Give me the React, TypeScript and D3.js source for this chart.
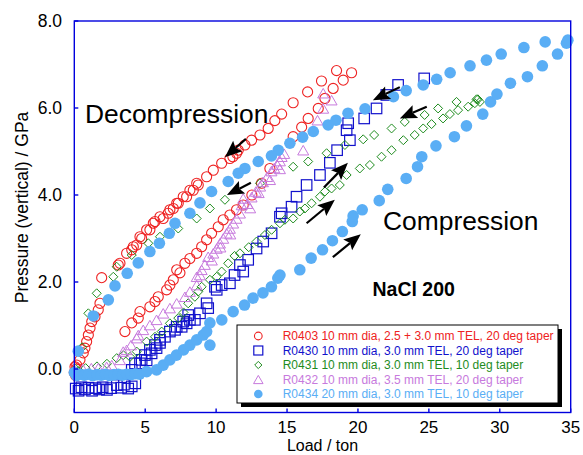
import React from "react";
import * as d3 from "d3";

// ---------- data (Load / ton, Pressure / GPa) ----------
const xTicks = [0, 5, 10, 15, 20, 25, 30, 35];
const yTicks = [0, 2, 4, 6, 8];

const R0403: [number, number][] = [
  [0.0, -0.08], [0.1, -0.15], [0.15, 0.0], [0.05, 0.05],
  [0.17, 0.09], [0.4, 0.21], [0.63, 0.37], [0.75, 0.48], [0.87, 0.63], [0.99, 0.78],
  [1.11, 0.94], [1.23, 1.09], [1.46, 1.2], [1.69, 1.36], [1.81, 1.51], [1.93, 2.1],
  [3.1, 2.39], [3.22, 2.43], [3.69, 2.66], [4.05, 2.74], [4.16, 2.81], [4.4, 2.85],
  [4.63, 3.04], [4.75, 3.0], [5.1, 3.2], [5.33, 3.2], [5.57, 3.35], [5.69, 3.39],
  [6.04, 3.5], [6.27, 3.46], [6.62, 3.58], [6.74, 3.66], [6.98, 3.69], [7.22, 3.81],
  [7.33, 3.81], [7.68, 3.96], [7.92, 3.96], [8.15, 4.11], [8.39, 4.11], [8.63, 4.27],
  [8.74, 4.23], [9.33, 4.42], [9.8, 4.57], [10.39, 4.73], [10.97, 4.84], [11.18, 4.88],
  [11.44, 4.96], [11.56, 5.03], [12.03, 5.15], [12.5, 5.26], [13.09, 5.38], [13.67, 5.53],
  [14.14, 5.71], [14.62, 5.86], [15.43, 6.12], [16.45, 6.37], [17.43, 6.62], [18.49, 6.86],
  [19.55, 6.81],
  [3.57, 0.86], [4.05, 1.06], [4.51, 1.17], [4.63, 1.32], [5.33, 1.43], [5.69, 1.55],
  [5.92, 1.66], [6.51, 1.82], [6.74, 1.93], [6.98, 2.05], [7.22, 2.28], [7.45, 2.21],
  [7.8, 2.43], [8.15, 2.54], [8.63, 2.66], [8.98, 2.81], [9.33, 2.97], [9.68, 3.12],
  [10.15, 3.27], [10.5, 3.43], [10.97, 3.54], [11.44, 3.66], [11.91, 3.77], [12.52, 4.0],
  [13.2, 4.27], [13.79, 4.61], [15.43, 5.34], [16.03, 5.56], [16.49, 5.76], [17.2, 5.99],
  [17.67, 6.22], [18.25, 6.45], [18.96, 6.64],
];

const R0430: [number, number][] = [
  [0.1, -0.45], [0.3, -0.5], [0.5, -0.42], [0.75, -0.47], [1.0, -0.43], [1.25, -0.5],
  [1.5, -0.44], [1.75, -0.47], [2.0, -0.42], [2.3, -0.48], [2.6, -0.44], [3.0, -0.37],
  [3.3, -0.43], [3.5, -0.36], [3.8, -0.45], [4.05, -0.4], [4.3, -0.33],
  [4.05, -0.02], [4.28, 0.13], [4.63, 0.13], [4.75, 0.21], [4.98, 0.32], [5.1, 0.2],
  [5.33, 0.44], [5.45, 0.36], [5.69, 0.55], [5.8, 0.48], [6.04, 0.67], [6.04, 0.6],
  [6.39, 0.74], [6.74, 0.86], [7.1, 0.9], [7.22, 0.97], [7.57, 0.97], [7.68, 1.09],
  [7.92, 1.05], [8.03, 1.24], [8.15, 1.13], [8.5, 1.13], [8.86, 1.28], [9.33, 1.51],
  [9.44, 1.4], [9.92, 1.89], [10.04, 1.82], [10.39, 1.93], [10.97, 1.97], [11.3, 2.16],
  [11.68, 2.39], [11.91, 2.24], [12.26, 2.51], [12.85, 2.77], [13.32, 2.93], [13.91, 3.12],
  [14.5, 3.5], [14.62, 3.58], [15.32, 3.73], [15.67, 3.96], [16.38, 4.23], [17.32, 4.46],
  [18.02, 4.74], [18.53, 5.03], [19.43, 5.26], [19.2, 5.49], [19.31, 5.65], [20.44, 5.76],
  [21.31, 5.99], [22.0, 6.3], [22.83, 6.53], [24.67, 6.68],
];

const R0431: [number, number][] = [
  [0.1, 0.0], [0.3, -0.05], [0.55, 0.5], [0.99, 1.28], [1.58, 1.74], [2.75, 2.12],
  [2.99, 2.35], [4.05, 2.62], [5.22, 2.89], [6.04, 3.04], [7.33, 3.23], [8.63, 3.46],
  [9.56, 3.69], [10.62, 3.89], [13.09, 4.27], [15.43, 4.65], [16.49, 4.77], [17.79, 4.96],
  [19.08, 5.15], [20.37, 5.28], [21.14, 5.38], [22.37, 5.53], [23.3, 5.68], [24.7, 5.84],
  [25.65, 5.99], [26.95, 6.14], [28.36, 6.2],
  [0.8, 0.02], [1.6, 0.06], [2.3, 0.12], [2.99, 0.25], [3.45, 0.32], [3.93, 0.28],
  [4.4, 0.4], [5.1, 0.63], [5.69, 0.74], [6.16, 0.86], [6.74, 1.05], [7.33, 1.17],
  [7.7, 1.3], [8.03, 1.51], [8.5, 1.66], [8.74, 1.78], [8.98, 1.89], [9.56, 2.05],
  [10.04, 2.12], [10.39, 2.24], [10.85, 2.43], [11.3, 2.6], [11.68, 2.66], [12.3, 2.8],
  [12.85, 2.93], [13.44, 3.08], [13.91, 3.2], [14.5, 3.35], [14.85, 3.43], [15.43, 3.46],
  [15.9, 3.62], [16.26, 3.69], [16.73, 3.81], [17.32, 3.96], [17.67, 4.08], [18.14, 4.15],
  [18.72, 4.23], [19.2, 4.46], [20.13, 4.61], [20.84, 4.69], [21.66, 4.88], [22.37, 5.03],
  [23.2, 5.26], [24.0, 5.38], [24.6, 5.53], [25.19, 5.63], [26.0, 5.76], [26.48, 5.86],
  [27.06, 5.95], [27.77, 6.03], [28.24, 6.11], [28.6, 6.14], [28.45, 6.2],
];

const R0432: [number, number][] = [
  [0.1, -0.05], [0.6, 0.0], [1.2, 0.02], [1.69, 0.02], [2.28, 0.05], [2.64, 0.09],
  [3.22, 0.21], [3.45, 0.4], [3.69, 0.44], [4.0, 0.55], [4.4, 0.71], [4.51, 0.78],
  [4.86, 0.9], [5.33, 1.01], [5.8, 1.13], [6.27, 1.28], [6.74, 1.4], [7.22, 1.51],
  [7.8, 1.66], [8.15, 1.78], [8.63, 1.93], [8.86, 2.16], [8.63, 2.12], [8.98, 2.28],
  [9.2, 2.4], [9.44, 2.58], [9.7, 2.5], [9.8, 2.66], [10.04, 2.77], [10.27, 2.89],
  [10.3, 2.8], [10.5, 3.0], [10.74, 3.12], [10.97, 3.23], [11.0, 3.1], [11.2, 3.35],
  [11.44, 3.46], [11.68, 3.58], [11.8, 3.77], [11.91, 3.92], [12.2, 3.8], [12.4, 3.7],
  [12.5, 3.95], [12.8, 4.08], [13.0, 4.05], [13.1, 4.2], [13.3, 4.3], [13.6, 4.42],
  [13.8, 4.35], [13.9, 4.55], [14.1, 4.62], [14.3, 4.7], [14.5, 4.6], [14.5, 4.78],
  [14.62, 4.88], [14.8, 4.95], [16.14, 5.03], [17.15, 5.72], [17.55, 5.99],
  [17.55, 6.34], [18.14, 6.18],
];

const R0434: [number, number][] = [
  [0.0, -0.08], [0.15, -0.15], [0.4, -0.12], [0.7, -0.14], [1.0, -0.12], [1.3, -0.15],
  [1.6, -0.13], [1.9, -0.14], [2.2, -0.12], [2.5, -0.15], [2.8, -0.13], [3.1, -0.12],
  [3.4, -0.14], [3.7, -0.12], [4.0, -0.13], [4.3, -0.11], [4.6, -0.12], [5.1, -0.06],
  [5.8, -0.02], [6.27, 0.09], [6.74, 0.21], [7.2, 0.32], [7.7, 0.44], [8.15, 0.55],
  [8.63, 0.67], [9.09, 0.78], [9.33, 0.86], [9.56, 1.06], [9.56, 0.55], [10.4, 1.13],
  [11.2, 1.32], [12.0, 1.47], [12.6, 1.63], [13.3, 1.75], [13.9, 1.89], [14.35, 2.09],
  [14.5, 2.16], [15.9, 2.28], [16.7, 2.55], [17.5, 2.74], [18.2, 2.95], [18.9, 3.16],
  [19.6, 3.39], [19.66, 3.52], [20.3, 3.66], [21.5, 3.87], [22.1, 4.13], [23.4, 4.38],
  [24.2, 4.65], [24.5, 4.88], [25.5, 5.13], [26.8, 5.34], [27.65, 5.59], [28.8, 5.86],
  [29.35, 6.14], [29.8, 6.32], [30.75, 6.57], [31.95, 6.72], [33.0, 6.97], [34.07, 7.24],
  [34.7, 7.49],
  [34.8, 7.56], [33.2, 7.52], [31.7, 7.39], [30.1, 7.24], [29.06, 7.1], [27.9, 6.97],
  [26.5, 6.81], [25.55, 6.66], [24.6, 6.53], [23.4, 6.4], [22.5, 6.26], [20.5, 5.98],
  [19.3, 5.88], [18.45, 5.72], [17.9, 5.61], [16.85, 5.46], [16.1, 5.33], [15.2, 5.19],
  [14.38, 5.03], [13.9, 4.9], [12.97, 4.77], [12.03, 4.61], [11.56, 4.5], [10.85, 4.31],
  [9.68, 4.08], [8.86, 3.82], [8.15, 3.58], [7.1, 3.35], [6.7, 3.12], [6.0, 2.89],
  [5.33, 2.7], [4.51, 2.44], [3.73, 2.2], [2.87, 1.91], [2.4, 1.59], [1.34, 1.22],
  [0.28, 0.41],
];

// arrows: [tailX, tailY, headX, headY] in data units
const arrowsData: [number, number, number, number][] = [
  [12.1, 5.29, 10.62, 4.87],
  [12.45, 4.28, 10.76, 4.0],
  [22.95, 6.48, 21.05, 6.18],
  [24.85, 6.03, 22.95, 5.76],
  [16.38, 3.35, 18.37, 3.89],
  [17.6, 4.17, 19.29, 4.74],
  [18.23, 2.57, 20.2, 3.1],
];

const legendLabels = [
  "R0403 10 mm dia, 2.5 + 3.0 mm TEL, 20 deg taper",
  "R0430 10 mm dia, 3.0 mm TEL, 20 deg taper",
  "R0431 10 mm dia, 3.0 mm TEL, 10 deg taper",
  "R0432 10 mm dia, 3.5 mm TEL, 20 deg taper",
  "R0434 20 mm dia, 3.0 mm TEL, 10 deg taper",
];

const RED = "#ee2222";
const BLUE = "#1111cc";
const GREEN = "#1e8c1e";
const PURPLE = "#c77add";
const LBLUE = "#5aaef5";
const AXIS = "#0000dd";
const FONT = "'Liberation Sans', Arial, Helvetica, sans-serif";

type Kind = "circle" | "square" | "diamond" | "triangle" | "dot";

function Marker({ kind, cx, cy, s }: { kind: Kind; cx: number; cy: number; s: number }) {
  if (kind === "circle")
    return <circle cx={cx} cy={cy} r={s * 0.48} fill="none" stroke={RED} strokeWidth={1.1} />;
  if (kind === "square")
    return (
      <rect x={cx - s / 2} y={cy - s / 2} width={s} height={s} fill="none" stroke={BLUE} strokeWidth={1.2} />
    );
  if (kind === "diamond") {
    const h = s * 0.45;
    return (
      <path
        d={`M${cx},${cy - h}L${cx + h},${cy}L${cx},${cy + h}L${cx - h},${cy}Z`}
        fill="none"
        stroke={GREEN}
        strokeWidth={1}
      />
    );
  }
  if (kind === "triangle") {
    const hh = s * 0.866;
    return (
      <path
        d={`M${cx},${cy - hh / 2}L${cx + s / 2},${cy + hh / 2}L${cx - s / 2},${cy + hh / 2}Z`}
        fill="none"
        stroke={PURPLE}
        strokeWidth={1}
      />
    );
  }
  return <circle cx={cx} cy={cy} r={s * 0.5} fill={LBLUE} stroke="none" />;
}

export default function App() {
  const x = d3.scaleLinear().domain([0, 35]).range([74.3, 570.7]);
  const y = d3.scaleLinear().domain([-1, 8]).range([412.5, 21]);
  const fmt = d3.format(".1f");

  const series: { data: [number, number][]; kind: Kind; size: number }[] = [
    { data: R0403, kind: "circle", size: 10.5 },
    { data: R0430, kind: "square", size: 10.5 },
    { data: R0431, kind: "diamond", size: 10 },
    { data: R0432, kind: "triangle", size: 11 },
    { data: R0434, kind: "dot", size: 11.6 },
  ];

  const legendKinds: { kind: Kind; size: number; color: string }[] = [
    { kind: "circle", size: 8, color: RED },
    { kind: "square", size: 9, color: BLUE },
    { kind: "diamond", size: 8, color: GREEN },
    { kind: "triangle", size: 9.5, color: PURPLE },
    { kind: "dot", size: 8.6, color: LBLUE },
  ];

  const arrow = (a: [number, number, number, number], i: number) => {
    const tx = x(a[0]), ty = y(a[1]), hx = x(a[2]), hy = y(a[3]);
    const dx = hx - tx, dy = hy - ty;
    const L = Math.hypot(dx, dy);
    const ux = dx / L, uy = dy / L;
    const nx = -uy, ny = ux;
    const hl = 17, hw = 7;
    const bx = hx - ux * hl, by = hy - uy * hl;
    return (
      <g key={i}>
        <line x1={tx} y1={ty} x2={bx + ux * 3} y2={by + uy * 3} stroke="#000" strokeWidth={2.2} />
        <path
          d={`M${hx},${hy}L${bx + nx * hw},${by + ny * hw}L${bx + ux * 3},${by + uy * 3}L${bx - nx * hw},${by - ny * hw}Z`}
          fill="#000"
        />
      </g>
    );
  };

  const lx = 237, ly = 325, lw = 321, lh = 78;

  return (
    <svg
      width={583}
      height={455}
      style={{ position: "absolute", left: 0, top: 0, background: "#fff" }}
      fontFamily={FONT}
    >
      <rect x={0} y={0} width={583} height={455} fill="#fff" />

      {/* markers */}
      {series.map((s, si) => (
        <g key={si}>
          {s.data.map((d, i) => (
            <Marker key={i} kind={s.kind} cx={x(d[0])} cy={y(d[1])} s={s.size} />
          ))}
        </g>
      ))}

      {/* arrows */}
      {arrowsData.map(arrow)}

      {/* annotations */}
      <text x={85} y={123} fontSize={26.4} fill="#000">Decompression</text>
      <text x={383} y={230} fontSize={26.4} fill="#000">Compression</text>
      <text x={372.5} y={296} fontSize={19.5} fontWeight="bold" fill="#000">NaCl 200</text>

      {/* legend */}
      <rect x={lx + 4} y={ly + 4} width={lw} height={lh} fill="#000" />
      <rect x={lx} y={ly} width={lw} height={lh} fill="#fff" stroke="#000" strokeWidth={1} />
      {legendLabels.map((lab, i) => {
        const cy = 336 + i * 14.5;
        const lk = legendKinds[i];
        return (
          <g key={i}>
            <Marker kind={lk.kind} cx={258.3} cy={cy} s={lk.size} />
            <text x={282.7} y={cy + 4.3} fontSize={12} fill={lk.color}>
              {lab}
            </text>
          </g>
        );
      })}

      {/* frame */}
      <rect
        x={x(0)}
        y={y(8)}
        width={x(35) - x(0)}
        height={y(-1) - y(8)}
        fill="none"
        stroke={AXIS}
        strokeWidth={1.4}
      />
      {/* x ticks */}
      {xTicks.map((t) => (
        <g key={"x" + t}>
          <line x1={x(t)} x2={x(t)} y1={y(-1)} y2={y(-1) - 4} stroke={AXIS} strokeWidth={1.4} />
          <text x={x(t)} y={433} fontSize={17} textAnchor="middle" fill="#000">
            {t}
          </text>
        </g>
      ))}
      {/* y ticks */}
      {yTicks.map((t) => (
        <g key={"y" + t}>
          <line x1={x(0)} x2={x(0) + 4} y1={y(t)} y2={y(t)} stroke={AXIS} strokeWidth={1.4} />
          <text x={62} y={y(t)} dy="0.35em" fontSize={17.5} textAnchor="end" fill="#000">
            {fmt(t)}
          </text>
        </g>
      ))}

      {/* axis titles */}
      <text x={322.5} y={451} fontSize={16} textAnchor="middle" fill="#000">
        Load / ton
      </text>
      <text
        transform="translate(27.5,207.5) rotate(-90)"
        fontSize={17.5}
        textAnchor="middle"
        fill="#000"
      >
        Pressure (vertical) / GPa
      </text>
    </svg>
  );
}
